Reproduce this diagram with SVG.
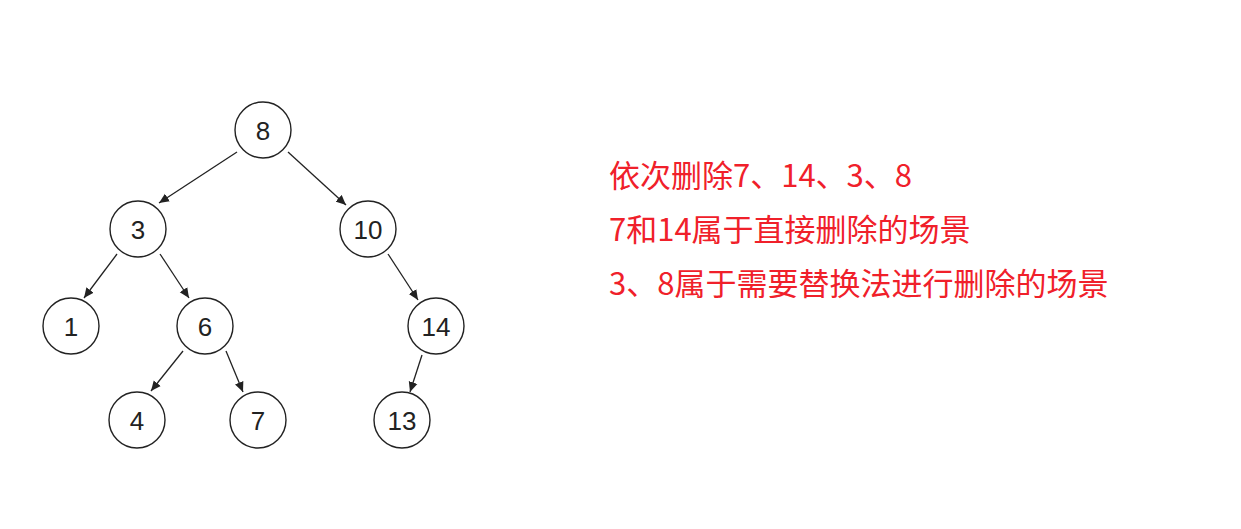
<svg xmlns="http://www.w3.org/2000/svg" width="1241" height="529" viewBox="0 0 1241 529">
<style>
.node circle{fill:#fff;stroke:#222;stroke-width:1.4}
.node text{font-family:"Liberation Sans",Arial,sans-serif;font-size:26px;fill:#222;text-anchor:middle;dominant-baseline:central}
.edge{stroke:#222;stroke-width:1.3;fill:none;marker-end:url(#arr)}
.note{font-family:"Noto Sans CJK SC",sans-serif;font-size:31px;fill:#f0202a}
</style>
<defs>
<marker id="arr" viewBox="0 0 10 10" refX="10" refY="5" markerWidth="10" markerHeight="10" markerUnits="userSpaceOnUse" orient="auto">
<path d="M0,0.5 L10,5 L0,9.5 Z" fill="#222"/>
</marker>
</defs>
<rect width="1241" height="529" fill="#fff"/>
<g id="connectors">
<line class="edge" x1="237" y1="152" x2="159" y2="203"/>
<line class="edge" x1="288" y1="152" x2="346" y2="205"/>
<line class="edge" x1="117" y1="254" x2="84" y2="298"/>
<line class="edge" x1="160" y1="254" x2="189" y2="298"/>
<line class="edge" x1="388" y1="254" x2="418" y2="300"/>
<line class="edge" x1="183" y1="351" x2="151" y2="391"/>
<line class="edge" x1="226" y1="351" x2="243" y2="392"/>
<line class="edge" x1="422" y1="355" x2="410" y2="392"/>
</g>
<g id="n8" class="node"><circle cx="263" cy="130" r="28"/><text x="263" y="131">8</text></g>
<g id="n3" class="node"><circle cx="138" cy="229" r="28"/><text x="138" y="230">3</text></g>
<g id="n10" class="node"><circle cx="368" cy="229" r="28"/><text x="368" y="230">10</text></g>
<g id="n1" class="node"><circle cx="71" cy="326" r="28"/><text x="71" y="327">1</text></g>
<g id="n6" class="node"><circle cx="205" cy="326" r="28"/><text x="205" y="327">6</text></g>
<g id="n14" class="node"><circle cx="436" cy="326" r="28"/><text x="436" y="327">14</text></g>
<g id="n4" class="node"><circle cx="137" cy="420" r="28"/><text x="137" y="421">4</text></g>
<g id="n7" class="node"><circle cx="258" cy="420" r="28"/><text x="258" y="421">7</text></g>
<g id="n13" class="node"><circle cx="402" cy="420" r="28"/><text x="402" y="421">13</text></g>
<g id="notes">
<text class="note" x="609" y="187">依次删除7、14、3、8</text>
<text class="note" x="609" y="241">7和14属于直接删除的场景</text>
<text class="note" x="609" y="295">3、8属于需要替换法进行删除的场景</text>
</g>
</svg>
